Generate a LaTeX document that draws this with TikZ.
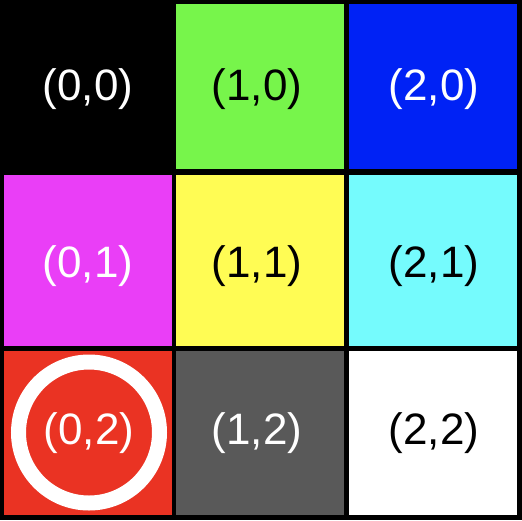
\documentclass[tikz,border=0pt]{standalone}
\usepackage{fontspec}
\setmainfont{Liberation Sans}
\definecolor{cgreen}{HTML}{77F54B}
\definecolor{cblue}{HTML}{0022F5}
\definecolor{cmag}{HTML}{EA3EF7}
\definecolor{cyel}{HTML}{FFFC54}
\definecolor{ccyan}{HTML}{75FBFD}
\definecolor{cred}{HTML}{EA3323}
\definecolor{cgray}{HTML}{595959}
\tikzset{
  cell/.style={fill=#1, draw=none},
  lbl/.style={text=#1, font=\fontsize{44}{44}\selectfont, inner sep=0pt, anchor=center},
}
\begin{document}
\begin{tikzpicture}[x=1pt,y=-1pt]
\fill[black] (0,0) rectangle (522,520);
\useasboundingbox (0,0) rectangle (522,520);
% row 0
\fill[cell=black] (4,4) rectangle (172,169);
\fill[cell=cgreen] (176,4) rectangle (344,169);
\fill[cell=cblue] (349,4) rectangle (517,169);
% row 1
\fill[cell=cmag] (4,175) rectangle (172,346);
\fill[cell=cyel] (176,175) rectangle (344,346);
\fill[cell=ccyan] (349,175) rectangle (517,346);
% row 2
\fill[cell=cred] (4,351) rectangle (172,515);
\fill[cell=cgray] (176,351) rectangle (344,515);
\fill[cell=white] (349,351) rectangle (517,515);
% ring
\draw[white, line width=15] (89,432.5) circle (70.5);
% labels
\node[lbl=white] (n00) at (88,89) {(0,0)};
\node[lbl=black] (n10) at (257,89) {(1,0)};
\node[lbl=white] (n20) at (434,89) {(2,0)};
\node[lbl=white] (n01) at (88,266) {(0,1)};
\node[lbl=black] (n11) at (257,266) {(1,1)};
\node[lbl=black] (n21) at (434,266) {(2,1)};
\node[lbl=white] (n02) at (89,433) {(0,2)};
\node[lbl=white] (n12) at (257,433) {(1,2)};
\node[lbl=black] (n22) at (434,433) {(2,2)};
\end{tikzpicture}
\end{document}
